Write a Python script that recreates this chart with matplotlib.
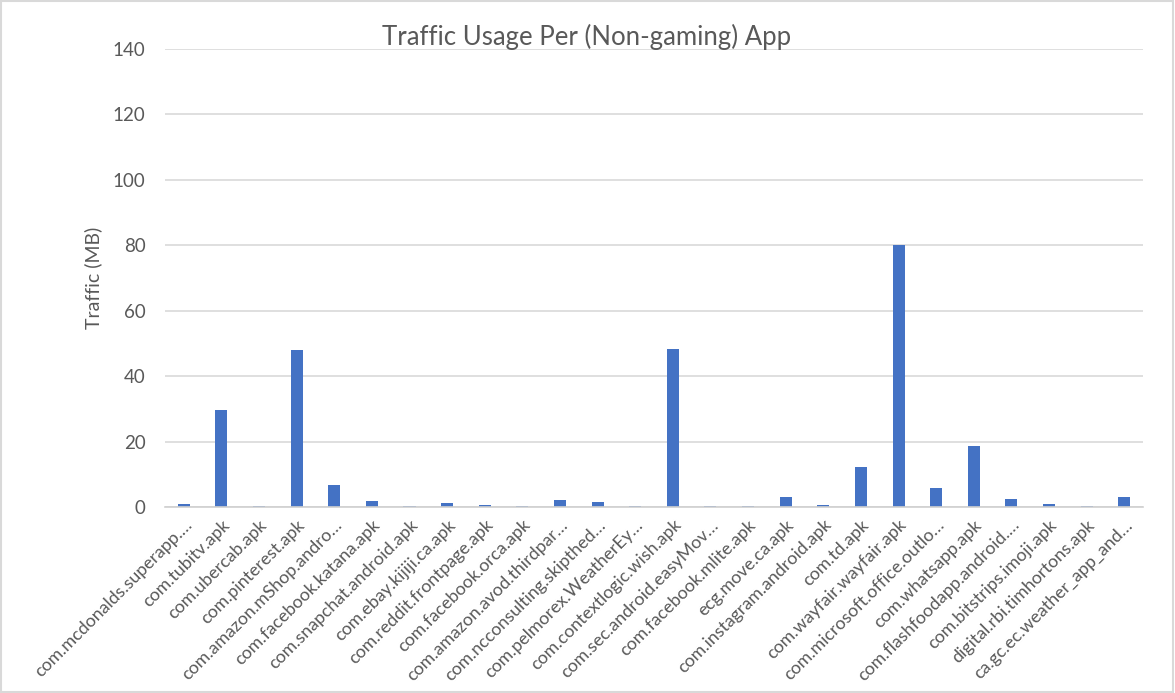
import matplotlib
matplotlib.use("Agg")
import matplotlib.pyplot as plt
from matplotlib.patches import Rectangle

apps = [
    "com.mcdonalds.superapp.…", "com.tubitv.apk", "com.ubercab.apk", "com.pinterest.apk",
    "com.amazon.mShop.andro…", "com.facebook.katana.apk", "com.snapchat.android.apk",
    "com.ebay.kijiji.ca.apk", "com.reddit.frontpage.apk", "com.facebook.orca.apk",
    "com.amazon.avod.thirdpar…", "com.ncconsulting.skipthed…", "com.pelmorex.WeatherEy…",
    "com.contextlogic.wish.apk", "com.sec.android.easyMov…", "com.facebook.mlite.apk",
    "ecg.move.ca.apk", "com.instagram.android.apk", "com.td.apk", "com.wayfair.wayfair.apk",
    "com.microsoft.office.outlo…", "com.whatsapp.apk", "com.flashfoodapp.android.…",
    "com.bitstrips.imoji.apk", "digital.rbi.timhortons.apk", "ca.gc.ec.weather_app_and…",
]
traffic_mb = [0.9, 29.7, 0.25, 48.0, 6.6, 1.8, 0.25, 1.2, 0.6, 0.25, 2.1, 1.5, 0.25,
              48.3, 0.25, 0.25, 3.0, 0.6, 12.2, 80.1, 5.8, 18.7, 2.4, 0.9, 0.25, 3.0]
y_ticks = [0, 20, 40, 60, 80, 100, 120, 140]

title = "Traffic Usage Per (Non-gaming) App"
ylabel = "Traffic (MB)"

plt.rcParams['font.family'] = ['Lato', 'DejaVu Sans']
gray = "#595959"

fig = plt.figure(figsize=(11.75, 6.93), dpi=100)
ax = fig.add_axes([0.1404, 0.2684, 0.8324, 0.6609])

x = list(range(len(apps)))
ax.bar(x, traffic_mb, width=0.32, color="#4472c4", zorder=3)
ax.set_xlim(-0.5, len(apps) - 0.5)
ax.set_ylim(0, 140)
ax.set_yticks(y_ticks)
ax.set_yticklabels([str(v) for v in y_ticks], color=gray, fontsize=13.5)
ax.set_xticks(x)
ax.set_xticklabels(apps, rotation=45, ha="right", rotation_mode="anchor",
                   color=gray, fontsize=12.8)
ax.tick_params(axis="y", length=0, pad=14)
ax.tick_params(axis="x", length=0, pad=7)
ax.grid(axis="y", color="#d9d9d9", linewidth=1.2, zorder=0)
for s in ["top", "right", "left"]:
    ax.spines[s].set_visible(False)
ax.spines["bottom"].set_color("#d0d0d0")
ax.spines["bottom"].set_linewidth(1.2)
ax.spines["bottom"].set_zorder(4)

ax.set_ylabel(ylabel, color=gray, fontsize=14, labelpad=8)
fig.text(0.4996, 0.946, title, ha="center", va="center", color=gray, fontsize=18.5)

fig.patches.append(Rectangle((0.001, 0.002), 0.997, 0.996, transform=fig.transFigure,
                             fill=False, edgecolor="#d9d9d9", linewidth=1.5))

fig.savefig("out.png", dpi=100, facecolor="white")
